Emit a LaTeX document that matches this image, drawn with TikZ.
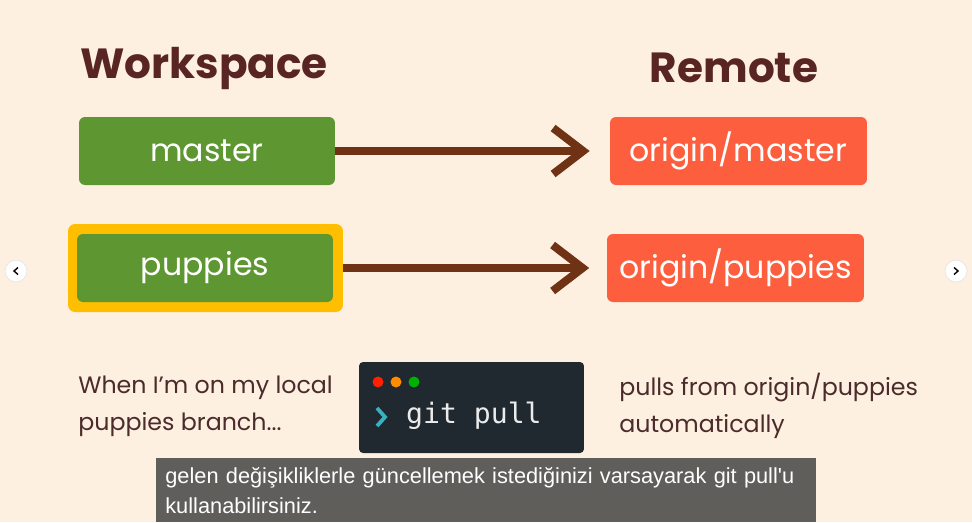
\documentclass[tikz,border=0pt]{standalone}
\usepackage{fontspec}
\setmainfont{Poppins}
\setmonofont{DejaVu Sans Mono}
\newfontfamily\subfont{Liberation Sans}
\usetikzlibrary{arrows.meta,positioning}
\definecolor{bgcream}{HTML}{FDF0E1}
\definecolor{headbrown}{HTML}{592424}
\definecolor{textbrown}{HTML}{4B2B2B}
\definecolor{arrbrown}{HTML}{6F3214}
\definecolor{brgreen}{HTML}{5E9732}
\definecolor{bryellow}{HTML}{FFBF00}
\definecolor{brorange}{HTML}{FC5E3E}
\definecolor{termbg}{HTML}{1F292F}
\definecolor{termteal}{HTML}{38B2C0}
\definecolor{subgray}{HTML}{605E5A}
\tikzset{
  localbr/.style={ fill=brgreen, rounded corners=1.2mm, minimum width=5.12cm, minimum height=1.36cm, text=white, font=\fontsize{18}{22}\selectfont }
}
\tikzset{
  remotebr/.style={ fill=brorange, rounded corners=1.2mm, minimum width=5.14cm, minimum height=1.36cm, text=white, font=\fontsize{18}{22}\selectfont }
}
\tikzset{
  heading/.style={ text=headbrown, font=\fontsize{24}{29}\selectfont\bfseries }
}
\tikzset{
  note/.style={ text=textbrown, align=left, anchor=west, inner xsep=0pt, font=\fontsize{13.5}{21}\selectfont }
}
\tikzset{
  pusharr/.style={ draw=arrbrown, line width=1.6mm, -{Straight Barb[length=6mm,width=9.2mm]} }
}
\tikzset{
  navbtn/.style={ circle, fill=white, draw=black!10, minimum size=0.44cm }
}
\begin{document}
\begin{tikzpicture}[x=0.02cm, y=-0.02cm]
      \fill[bgcream] (0, 0) rectangle (972, 522);
      \useasboundingbox (0, 0) rectangle (972, 522);

      \node[heading] (ws) at (204, 68) {Workspace};
      \node[heading] (rm) at (734, 68) {Remote};

      \node[localbr] (master) at (207, 151) {master};
      \node[fill=bryellow, rounded corners=1.4mm, minimum width=5.5cm, minimum height=1.76cm] (hl) at (205.5, 268) {};
      \node[localbr] (puppies) at (205, 268) {puppies};

      \node[remotebr] (omaster) at (738.5, 151) {origin/master};
      \node[remotebr] (opuppies) at (735.5, 268) {origin/puppies};

      \draw[pusharr, shorten >=0.4cm] (master.east) -- (omaster.west |- master.east);
      \draw[pusharr, shorten >=0.35cm] (hl.east) -- (opuppies.west |- hl.east);

      \node[note] (when) at (78, 406) {When I'm on my local\\puppies branch...};
      \node[note] (pulls) at (619, 406) {pulls from origin/puppies\\automatically};

      \node[fill=termbg, rounded corners=0.8mm, minimum width=4.5cm, minimum height=1.82cm] (term) at (471.5, 407.5) {};
      \fill[red!75!orange] (378, 382) circle (0.11cm);
      \fill[orange!90!yellow] (396, 382) circle (0.11cm);
      \fill[green!70!black] (414, 382) circle (0.11cm);
      \draw[termteal, line width=0.75mm] (377, 408) -- (385, 417) -- (377, 426);
      \node[anchor=west, text=white!92!black, font=\ttfamily\fontsize{16}{18}\selectfont] (cmd) at (400, 416) {git pull};

      \node[navbtn] (prev) at (16, 271) {};
      \draw[thick] ([xshift=0.04cm, yshift=0.07cm]prev.center) -- ([xshift=-0.04cm]prev.center) -- ([xshift=0.04cm, yshift=-0.07cm]prev.center);
      \node[navbtn] (next) at (956, 271) {};
      \draw[thick] ([xshift=-0.04cm, yshift=0.07cm]next.center) -- ([xshift=0.04cm]next.center) -- ([xshift=-0.04cm, yshift=-0.07cm]next.center);

      \node[fill=subgray, anchor=north west, minimum width=13.2cm, minimum height=1.28cm, text width=12.84cm, inner xsep=0.18cm, align=left, text=white, font=\subfont\fontsize{12.4}{17}\selectfont] (sub) at (156, 458) {gelen değişikliklerle güncellemek istediğinizi varsayarak git pull'u\\kullanabilirsiniz.};
    \end{tikzpicture}
\end{document}
